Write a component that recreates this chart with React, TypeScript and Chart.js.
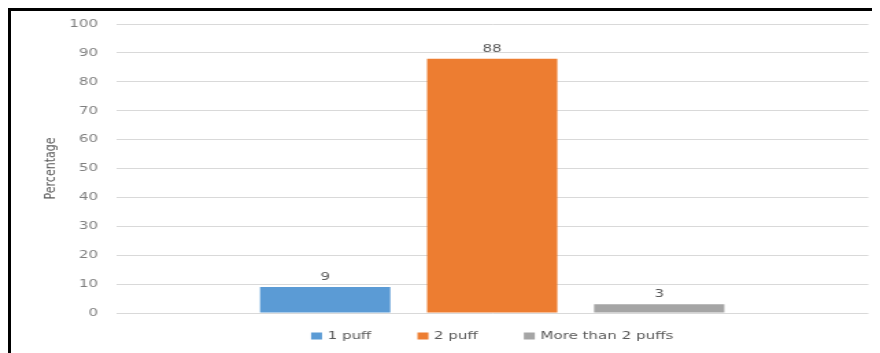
import React, { useEffect, useRef } from "react";
import { Chart, registerables } from "chart.js";

Chart.register(...registerables);

const categories = ["Puffs"];
const seriesNames = ["1 puff", "2 puff", "More than 2 puffs"];
const seriesValues = [9, 88, 3];
const seriesColors = ["#5B9BD5", "#ED7D31", "#A5A5A5"];
const yTicks = [0, 10, 20, 30, 40, 50, 60, 70, 80, 90, 100];

const FONT = "'DejaVu Sans', Verdana, sans-serif";
const STRETCH = 1.37;
const CSS_W = 869;
const CSS_H = 342;
const INT_W = Math.round(CSS_W / STRETCH);

const valueLabels = {
  id: "valueLabels",
  afterDatasetsDraw(chart: any) {
    const ctx = chart.ctx;
    ctx.save();
    ctx.font = `11px ${FONT}`;
    ctx.fillStyle = "#595959";
    ctx.textAlign = "center";
    ctx.textBaseline = "alphabetic";
    chart.data.datasets.forEach((ds: any, i: number) => {
      const meta = chart.getDatasetMeta(i);
      meta.data.forEach((bar: any, j: number) => {
        ctx.fillText(String(ds.data[j]), bar.x, bar.y - 7);
      });
    });
    ctx.restore();
  },
};

const bottomLegend = {
  id: "bottomLegend",
  afterDraw(chart: any) {
    const ctx = chart.ctx;
    const area = chart.chartArea;
    ctx.save();
    ctx.font = `11px ${FONT}`;
    const boxW = 8;
    const boxH = 7;
    const textGap = 12;
    const itemGap = 33.6;
    const items = chart.data.datasets.map((ds: any) => ({
      text: ds.label,
      color: ds.backgroundColor,
      w: textGap + ctx.measureText(ds.label).width,
    }));
    const total =
      items.reduce((s: number, it: any) => s + it.w, 0) +
      itemGap * (items.length - 1);
    let x = (area.left + area.right) / 2 - total / 2;
    const y = area.bottom + 23;
    items.forEach((it: any) => {
      ctx.fillStyle = it.color;
      ctx.fillRect(x, y - boxH / 2, boxW, boxH);
      ctx.fillStyle = "#595959";
      ctx.textAlign = "left";
      ctx.textBaseline = "middle";
      ctx.fillText(it.text, x + textGap, y + 0.5);
      x += it.w + itemGap;
    });
    ctx.restore();
  },
};

export default function App() {
  const ref = useRef<HTMLCanvasElement | null>(null);

  useEffect(() => {
    if (!ref.current) return;
    const chart = new Chart(ref.current, {
      type: "bar",
      data: {
        labels: categories,
        datasets: seriesNames.map((name, i) => ({
          label: name,
          data: [seriesValues[i]],
          backgroundColor: seriesColors[i],
          borderWidth: 0,
          categoryPercentage: 0.666,
          barPercentage: 0.78,
        })),
      },
      options: {
        responsive: false,
        animation: false,
        devicePixelRatio: 1,
        layout: { padding: { left: 19, right: 8.5, top: 13, bottom: 40 } },
        plugins: {
          legend: { display: false },
          tooltip: { enabled: false },
        },
        scales: {
          x: { display: false },
          y: {
            min: 0,
            max: 100,
            afterBuildTicks: (s: any) => {
              s.ticks = yTicks.map((v) => ({ value: v }));
            },
            afterFit: (s: any) => {
              s.width = 57.6;
              s.paddingTop = 7;
              s.paddingBottom = 7;
            },
            grid: { color: "#D9D9D9", lineWidth: 1, drawTicks: false },
            border: { display: false },
            ticks: {
              padding: 13,
              color: "#7F7F7F",
              font: { family: FONT, size: 11 },
            },
            title: {
              display: true,
              text: "Percentage",
              color: "#595959",
              font: { family: FONT, size: 11 },
            },
          },
        },
      },
      plugins: [valueLabels, bottomLegend],
    });
    return () => chart.destroy();
  }, []);

  return (
    <div
      style={{
        width: CSS_W + 3,
        borderTop: "3px solid #000",
        borderLeft: "3px solid #000",
        background: "#fff",
      }}
    >
      <canvas
        ref={ref}
        width={INT_W}
        height={CSS_H}
        style={{ width: CSS_W + "px", height: CSS_H + "px", display: "block" }}
      />
    </div>
  );
}
